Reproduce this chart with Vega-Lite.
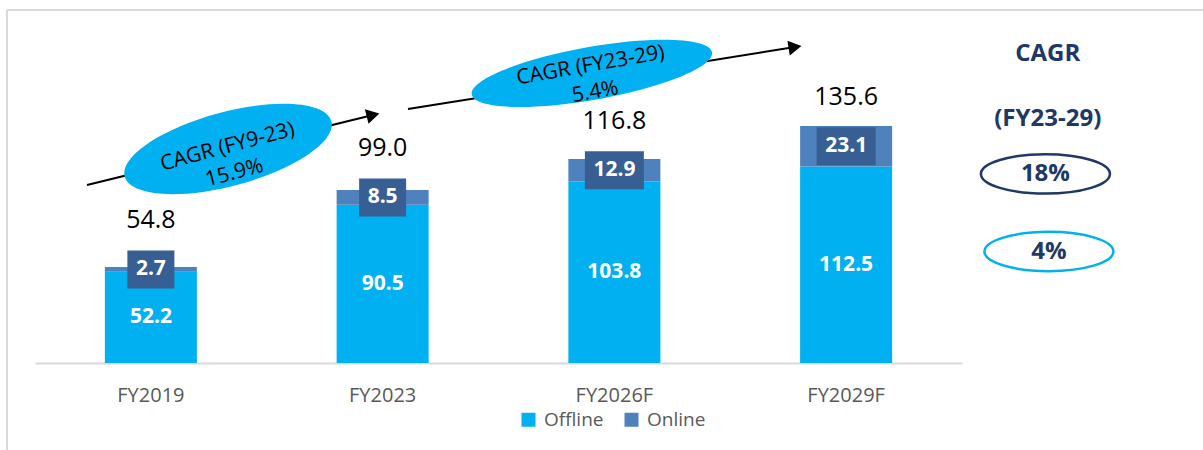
{
  "$schema": "https://vega.github.io/schema/vega-lite/v6.json",
  "width": 927,
  "height": 353,
  "autosize": {"type": "none"},
  "padding": {"left": 35, "top": 10, "right": 241, "bottom": 87},
  "background": "white",
  "config": {"view": {"stroke": null}, "font": "Open Sans", "text": {"font": "Open Sans"}},
  "datasets": {
    "bars": [
      {"year": "FY2019", "series": "Offline", "amount": 52.2, "total": 54.8},
      {"year": "FY2019", "series": "Online", "amount": 2.7, "total": 54.8},
      {"year": "FY2023", "series": "Offline", "amount": 90.5, "total": 99.0},
      {"year": "FY2023", "series": "Online", "amount": 8.5, "total": 99.0},
      {"year": "FY2026F", "series": "Offline", "amount": 103.8, "total": 116.8},
      {"year": "FY2026F", "series": "Online", "amount": 12.9, "total": 116.8},
      {"year": "FY2029F", "series": "Offline", "amount": 112.5, "total": 135.6},
      {"year": "FY2029F", "series": "Online", "amount": 23.1, "total": 135.6}
    ],
    "frame": [
      {"x0": -0.121, "y0": 202, "x1": -0.121, "y1": -52},
      {"x0": -0.121, "y0": 202, "x1": 5.06, "y1": 202}
    ],
    "arrows": [
      {"id": "FY19-23", "x0": 0.2244, "y0": 101.9, "x1": 1.4585, "y1": 141.9},
      {"id": "FY23-29", "x0": 1.6095, "y0": 145.35, "x1": 3.2794, "y1": 180.8}
    ],
    "ovals": [
      {"id": "FY19-23", "pos": 0.833, "val": 122.5, "label": ["CAGR (FY9-23)", "15.9%"]},
      {"id": "FY23-29", "pos": 2.403, "val": 165.7, "label": ["CAGR (FY23-29)", "5.4%"]}
    ],
    "side": [
      {"kind": "title", "pos": 4.37, "val": 177.1, "label": "CAGR"},
      {"kind": "title", "pos": 4.37, "val": 139.8, "label": "(FY23-29)"},
      {"kind": "Online", "pos": 4.36, "val": 108.2, "label": "18%"},
      {"kind": "Offline", "pos": 4.375, "val": 63.8, "label": "4%"}
    ]
  },
  "layer": [
    {
      "data": {"name": "bars"},
      "encoding": {
        "x": {
          "field": "year", "type": "nominal", "sort": null,
          "scale": {"paddingInner": 0.603, "paddingOuter": 0.3015},
          "axis": {"title": null, "ticks": false, "domainColor": "#d9d9d9", "domainWidth": 2,
                   "labelFontSize": 20, "labelColor": "#595959", "labelPadding": 22,
                   "labelFont": "Open Sans", "labelAngle": 0}
        }
      },
      "layer": [
        {
          "mark": {"type": "bar"},
          "encoding": {
            "y": {"field": "amount", "type": "quantitative", "scale": {"domain": [0, 202], "nice": false}, "axis": null},
            "color": {
              "field": "series", "type": "nominal",
              "scale": {"domain": ["Offline", "Online"], "range": ["#00B0F0", "#4F81BD"]},
              "legend": {"orient": "none", "legendX": 484, "legendY": 400, "direction": "horizontal",
                         "title": null, "symbolType": "square", "symbolSize": 196, "symbolStrokeWidth": 0,
                         "symbolOpacity": 1, "labelFontSize": 19, "labelFont": "Open Sans",
                         "labelColor": "#595959", "labelOffset": 6, "columnPadding": 18}
            },
            "order": {"field": "series", "sort": "ascending"}
          }
        },
        {
          "transform": [
            {"stack": "amount", "groupby": ["year"], "sort": [{"field": "series", "order": "ascending"}], "as": ["lo", "hi"]},
            {"fold": ["lo", "hi"], "as": ["edge", "pos"]},
            {"aggregate": [{"op": "mean", "field": "pos", "as": "mid"}], "groupby": ["year", "series", "amount", "total"]}
          ],
          "encoding": {
            "y": {"field": "mid", "type": "quantitative", "scale": {"domain": [0, 202], "nice": false}, "axis": null}
          },
          "layer": [
            {
              "transform": [{"filter": "datum.series === 'Offline'"}],
              "mark": {"type": "text", "font": "Open Sans", "fontWeight": "bold", "fontSize": 21, "color": "white", "baseline": "middle"},
              "encoding": {"text": {"field": "amount", "type": "quantitative", "format": ".1f"}}
            },
            {
              "transform": [{"filter": "datum.series === 'Online'"}],
              "mark": {"type": "point", "filled": true, "opacity": 1, "color": "#375F93", "strokeWidth": 0},
              "encoding": {
                "shape": {"condition": {"test": "datum.amount < 10", "value": "M-1,-0.809L1,-0.809L1,0.809L-1,0.809Z"}, "value": "M-1,-0.644L1,-0.644L1,0.644L-1,0.644Z"},
                "size": {"condition": {"test": "datum.amount < 10", "value": 2209}, "value": 3481}
              }
            },
            {
              "transform": [{"filter": "datum.series === 'Online'"}],
              "mark": {"type": "text", "font": "Open Sans", "fontWeight": "bold", "fontSize": 21, "color": "white", "baseline": "middle"},
              "encoding": {"text": {"field": "amount", "type": "quantitative", "format": ".1f"}}
            },
            {
              "transform": [{"filter": "datum.series === 'Online'"}],
              "mark": {"type": "text", "font": "Open Sans", "fontSize": 25, "color": "black", "baseline": "alphabetic", "dy": -41},
              "encoding": {"text": {"field": "total", "type": "quantitative", "format": ".1f"}}
            }
          ]
        }
      ]
    },
    {
      "layer": [
        {
          "data": {"name": "frame"},
          "mark": {"type": "rule", "color": "#d9d9d9", "strokeWidth": 2},
          "encoding": {
            "x": {"field": "x0", "type": "quantitative", "scale": {"domain": [0, 4], "nice": false, "zero": false}, "axis": null},
            "y": {"field": "y0", "type": "quantitative", "scale": {"domain": [0, 202], "nice": false}, "axis": null},
            "x2": {"field": "x1"},
            "y2": {"field": "y1"}
          }
        },
        {
          "data": {"name": "arrows"},
          "mark": {"type": "rule", "color": "black", "strokeWidth": 2},
          "encoding": {
            "x": {"field": "x0", "type": "quantitative", "scale": {"domain": [0, 4], "nice": false, "zero": false}, "axis": null},
            "y": {"field": "y0", "type": "quantitative", "scale": {"domain": [0, 202], "nice": false}, "axis": null},
            "x2": {"field": "x1"},
            "y2": {"field": "y1"}
          }
        },
        {
          "data": {"name": "arrows"},
          "mark": {"type": "point", "shape": "triangle-right", "filled": true, "opacity": 1, "color": "black", "size": 225, "strokeWidth": 0},
          "encoding": {
            "x": {"field": "x1", "type": "quantitative", "scale": {"domain": [0, 4], "nice": false, "zero": false}, "axis": null},
            "y": {"field": "y1", "type": "quantitative", "scale": {"domain": [0, 202], "nice": false}, "axis": null},
            "angle": {"condition": {"test": "datum.id === 'FY19-23'", "value": -14}, "value": -9}
          }
        },
        {
          "data": {"name": "ovals"},
          "mark": {"type": "point", "filled": true, "opacity": 1, "color": "#00B0F0", "strokeWidth": 0},
          "encoding": {
            "x": {"field": "pos", "type": "quantitative", "scale": {"domain": [0, 4], "nice": false, "zero": false}, "axis": null},
            "y": {"field": "val", "type": "quantitative", "scale": {"domain": [0, 202], "nice": false}, "axis": null},
            "shape": {"condition": {"test": "datum.id === 'FY19-23'", "value": "M-1,0A1,0.346 0 1,0 1,0A1,0.346 0 1,0 -1,0Z"}, "value": "M-1,0A1,0.217 0 1,0 1,0A1,0.217 0 1,0 -1,0Z"},
            "size": {"condition": {"test": "datum.id === 'FY19-23'", "value": 45796}, "value": 59536},
            "angle": {"condition": {"test": "datum.id === 'FY19-23'", "value": -15}, "value": -10}
          }
        },
        {
          "data": {"name": "ovals"},
          "transform": [{"filter": "datum.id === 'FY19-23'"}],
          "mark": {"type": "text", "font": "Open Sans", "fontSize": 21, "color": "black", "align": "center", "baseline": "middle", "lineHeight": 27, "angle": -15, "dy": -2},
          "encoding": {
            "x": {"field": "pos", "type": "quantitative", "scale": {"domain": [0, 4], "nice": false, "zero": false}, "axis": null},
            "y": {"field": "val", "type": "quantitative", "scale": {"domain": [0, 202], "nice": false}, "axis": null},
            "text": {"field": "label"}
          }
        },
        {
          "data": {"name": "ovals"},
          "transform": [{"filter": "datum.id === 'FY23-29'"}],
          "mark": {"type": "text", "font": "Open Sans", "fontSize": 21, "color": "black", "align": "center", "baseline": "middle", "lineHeight": 27, "angle": -10, "dy": -8},
          "encoding": {
            "x": {"field": "pos", "type": "quantitative", "scale": {"domain": [0, 4], "nice": false, "zero": false}, "axis": null},
            "y": {"field": "val", "type": "quantitative", "scale": {"domain": [0, 202], "nice": false}, "axis": null},
            "text": {"field": "label"}
          }
        },
        {
          "data": {"name": "side"},
          "transform": [{"filter": "datum.kind !== 'title'"}],
          "mark": {"type": "point", "filled": false, "opacity": 1, "strokeWidth": 2.5, "shape": "M-1,0A1,0.305 0 1,0 1,0A1,0.305 0 1,0 -1,0Z", "size": 16641},
          "encoding": {
            "x": {"field": "pos", "type": "quantitative", "scale": {"domain": [0, 4], "nice": false, "zero": false}, "axis": null},
            "y": {"field": "val", "type": "quantitative", "scale": {"domain": [0, 202], "nice": false}, "axis": null},
            "stroke": {"condition": {"test": "datum.kind === 'Online'", "value": "#203864"}, "value": "#00B0F0"}
          }
        },
        {
          "data": {"name": "side"},
          "mark": {"type": "text", "font": "Open Sans", "fontWeight": "bold", "fontSize": 24, "color": "#203864", "align": "center", "baseline": "middle"},
          "encoding": {
            "x": {"field": "pos", "type": "quantitative", "scale": {"domain": [0, 4], "nice": false, "zero": false}, "axis": null},
            "y": {"field": "val", "type": "quantitative", "scale": {"domain": [0, 202], "nice": false}, "axis": null},
            "text": {"field": "label"}
          }
        }
      ]
    }
  ],
  "resolve": {"scale": {"x": "independent"}}
}
